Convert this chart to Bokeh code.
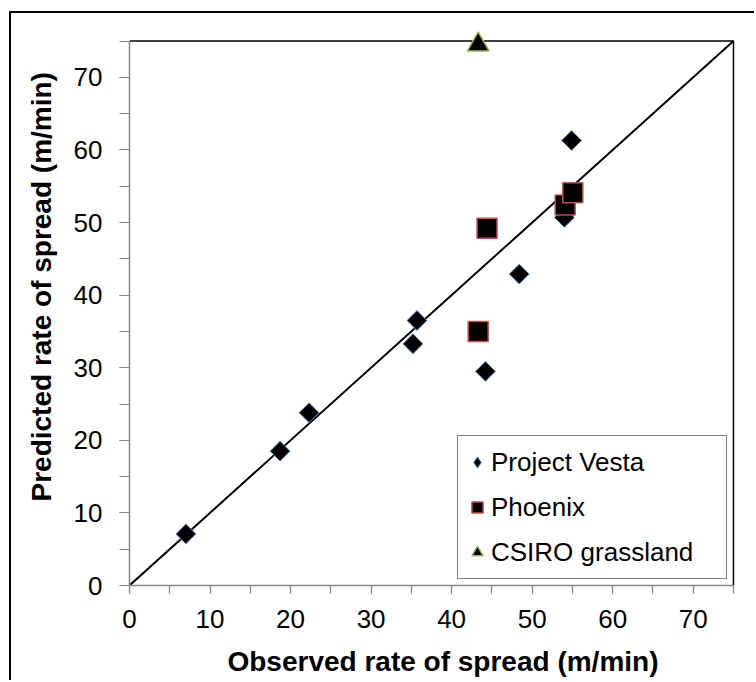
import math
from bokeh.plotting import figure
from bokeh.models import (Range1d, SingleIntervalTicker, Legend, LegendItem, Title,
                          ColumnDataSource)
from bokeh.embed import file_html
from bokeh.resources import INLINE

# ---- data ----
vesta_x = [7.0, 18.7, 22.3, 35.2, 35.7, 44.2, 48.4, 54.0, 54.9]
vesta_y = [7.1, 18.5, 23.8, 33.3, 36.5, 29.5, 42.9, 50.7, 61.3]

phoenix_x = [43.3, 44.4, 54.1, 55.05]
phoenix_y = [35.0, 49.2, 52.4, 54.1]

csiro_x = [43.3]
csiro_y = [74.5]

line_1to1 = [0, 75]          # 1:1 line
axis_min, axis_max = 0, 75

x_title = "Observed rate of spread (m/min)"
y_title = "Predicted rate of spread (m/min)"
series_names = ["Project Vesta", "Phoenix", "CSIRO grassland"]

FONT = "Liberation Sans"

p = figure(width=745, height=669,
           x_range=Range1d(axis_min, axis_max + 2.86),
           y_range=Range1d(axis_min, axis_max + 2),
           output_backend="svg", toolbar_location=None,
           min_border_left=118, min_border_right=0,
           min_border_top=13, min_border_bottom=97)
p.styles = {"position": "relative", "left": "9px", "top": "11px",
            "border-left": "2px solid black", "border-top": "2px solid black"}
p.outline_line_color = None
p.background_fill_color = "white"
p.border_fill_color = "white"
p.xgrid.visible = False
p.ygrid.visible = False

for ax in (p.xaxis[0], p.yaxis[0]):
    ax.ticker = SingleIntervalTicker(interval=10, num_minor_ticks=2)
    ax.bounds = (axis_min, axis_max)
    ax.axis_line_color = "#868686"
    ax.axis_line_width = 1.5
    ax.major_tick_line_color = "#868686"
    ax.minor_tick_line_color = "#868686"
    ax.major_tick_line_width = 1.2
    ax.minor_tick_line_width = 1.2
    ax.major_tick_in = 0
    ax.minor_tick_in = 0
    ax.major_label_text_font = FONT
    ax.major_label_text_font_size = "26px"
    ax.major_label_text_color = "black"

p.xaxis.major_tick_out = 8
p.xaxis.minor_tick_out = 8
p.xaxis.major_label_standoff = 16
p.yaxis.major_tick_out = 10
p.yaxis.minor_tick_out = 10
p.yaxis.major_label_standoff = 17

p.xaxis.axis_label = x_title
p.xaxis.axis_label_standoff = 15
p.xaxis.axis_label_text_font = FONT
p.xaxis.axis_label_text_font_size = "28px"
p.xaxis.axis_label_text_font_style = "bold"
p.xaxis.axis_label_text_color = "black"

# black top / right frame edges
p.line([axis_min, axis_max, axis_max], [axis_max, axis_max, axis_min],
       line_color="black", line_width=1.5)

# 1:1 line
p.line(line_1to1, line_1to1, line_color="black", line_width=2)

r_vesta = p.scatter(vesta_x, vesta_y, marker="square", angle=math.pi / 4, size=14,
                    fill_color="black", line_color="#4f81bd", line_width=1)
r_phx = p.scatter(phoenix_x, phoenix_y, marker="square", size=20,
                  fill_color="black", line_color="#c0504d", line_width=1.5)
r_csiro = p.scatter(csiro_x, csiro_y, marker="triangle", size=22,
                    fill_color="black", line_color="#9bbb59", line_width=1.5)

# legend key for the diamond symbol (legend glyphs are drawn unrotated);
# a single NaN row so that it draws nothing inside the plot
key_src = ColumnDataSource(dict(x=[float("nan")], y=[float("nan")]))
r_vesta_key = p.scatter("x", "y", source=key_src, marker="diamond", size=14,
                        fill_color="black", line_color="#4f81bd", line_width=1)

legend = Legend(items=[LegendItem(label=series_names[0], renderers=[r_vesta_key]),
                       LegendItem(label=series_names[1], renderers=[r_phx]),
                       LegendItem(label=series_names[2], renderers=[r_csiro])],
                location=(328, 6))
legend.border_line_color = "black"
legend.border_line_width = 1.5
legend.padding = 5
legend.spacing = 3
legend.margin = 0
legend.label_height = 42
legend.glyph_height = 42
legend.glyph_width = 28
legend.label_standoff = 0
legend.label_width = 230
legend.label_text_font = FONT
legend.label_text_font_size = "26px"
legend.label_text_color = "black"
legend.background_fill_color = "white"
legend.background_fill_alpha = 1.0
p.add_layout(legend)

p.add_layout(Title(text=y_title, align="left", offset=84, standoff=25,
                   vertical_align="middle", text_font=FONT, text_font_size="28px",
                   text_font_style="bold", text_color="black"), "left")

open("out.html", "w").write(file_html(p, INLINE))
